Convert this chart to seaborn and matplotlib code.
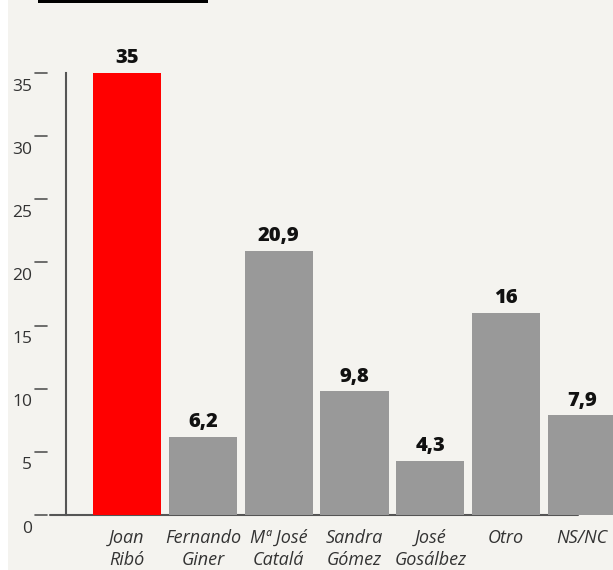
import numpy as np
import pandas as pd
import seaborn as sns
import matplotlib.pyplot as plt
from matplotlib.patches import Rectangle
from matplotlib import transforms

# data
candidates = ["Joan\nRibó", "Fernando\nGiner", "Mª José\nCatalá", "Sandra\nGómez",
              "José\nGosálbez", "Otro", "NS/NC"]
values = [35, 6.2, 20.9, 9.8, 4.3, 16, 7.9]
value_labels = ["35", "6,2", "20,9", "9,8", "4,3", "16", "7,9"]
bar_colors = ["#ff0000", "#999999", "#999999", "#999999", "#999999", "#999999", "#999999"]
y_ticks = [0, 5, 10, 15, 20, 25, 30, 35]

bg = "#f4f3ef"
sns.set_style("white")
plt.rcParams['font.family'] = ['Open Sans', 'DejaVu Sans']

fig = plt.figure(figsize=(6.13, 5.7), dpi=100, facecolor=bg)
ax = fig.add_axes([66 / 613, 55 / 570, 547 / 613, 442 / 570])
ax.set_facecolor(bg)

df = pd.DataFrame({"cand": candidates, "val": values})
sns.barplot(data=df, x="cand", y="val", hue="cand", palette=bar_colors,
            width=0.9, legend=False, ax=ax, zorder=3, saturation=1,
            linewidth=0, edgecolor="none")

ax.set_xlim(-0.805, 6.41)
ax.set_ylim(0, 35)
ax.set_xlabel("")
ax.set_ylabel("")

for s in ["top", "right", "bottom"]:
    ax.spines[s].set_visible(False)
ax.spines["left"].set_color("#555555")
ax.spines["left"].set_linewidth(1.5)

# baseline behind the bars
ax.plot([-1.02, 5.95], [0, 0], color="#555555", lw=1.5, zorder=1, clip_on=False)

# y ticks drawn detached from the spine
ax.set_yticks([])
trans = transforms.blended_transform_factory(ax.transAxes, ax.transData)
for t in y_ticks:
    ax.plot([-31 / 547, -19 / 547], [t, t], color="#555555", lw=1.2,
            transform=trans, clip_on=False)
    ax.annotate(str(t), xy=(-34 / 547, t), xycoords=trans, xytext=(0, -4),
                textcoords="offset points", ha="right", va="top",
                fontsize=12.5, color="#333333")

# x labels
ax.set_xticks(range(len(candidates)))
ax.set_xticklabels(candidates, fontsize=13, style="italic", color="#333333",
                   linespacing=1.3)
ax.tick_params(axis="x", length=0, pad=10)

# value labels
for i, (v, lab) in enumerate(zip(values, value_labels)):
    ax.annotate(lab, xy=(i, v), xytext=(0, 7), textcoords="offset points",
                ha="center", va="baseline", fontsize=14.5, fontweight="heavy",
                color="#111111")

# white strip on the left and black rule on top
fig.patches.append(Rectangle((0, 0), 8 / 613, 1, transform=fig.transFigure,
                             facecolor="white", edgecolor="none"))
fig.patches.append(Rectangle((38 / 613, 1 - 3 / 570), 170 / 613, 3 / 570,
                             transform=fig.transFigure, facecolor="black",
                             edgecolor="none"))

fig.savefig("out.png", dpi=100, facecolor=bg)
